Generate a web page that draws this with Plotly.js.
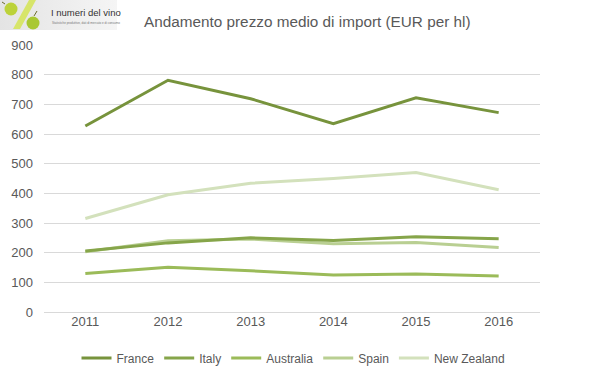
<!DOCTYPE html>
<html>
<head>
<meta charset="utf-8">
<script src="https://cdn.plot.ly/plotly-3.0.1.min.js"></script>
<style>html,body{margin:0;padding:0;background:#fff;}#chart{width:599px;height:378px;}</style>
</head>
<body>
<div id="chart"></div>
<script>
const years = ['2011', '2012', '2013', '2014', '2015', '2016'];
const france = [627, 781, 719, 635, 722, 672];
const italy = [206, 233, 250, 241, 254, 247];
const australia = [130, 151, 139, 125, 128, 121];
const spain = [203, 240, 246, 230, 234, 217];
const newZealand = [315, 395, 434, 450, 470, 412];
const seriesNames = ['France', 'Italy', 'Australia', 'Spain', 'New Zealand'];
const seriesColors = ['#77933C', '#86A54A', '#9BBB59', '#B9CF92', '#D3E1BC'];
const seriesValues = [france, italy, australia, spain, newZealand];

const traces = seriesValues.map((vals, i) => ({
  x: years, y: vals, name: seriesNames[i], type: 'scatter', mode: 'lines',
  line: {color: seriesColors[i], width: 3}, legendrank: i + 1
}));
// draw order: lightest at back
const ordered = traces.slice().reverse();

const logoSvg = '<svg xmlns="http://www.w3.org/2000/svg" width="117" height="30" viewBox="0 0 117 30">' +
  '<defs><linearGradient id="g" x1="0" y1="0" x2="1" y2="0"><stop offset="0" stop-color="#e4e4e4"/><stop offset="1" stop-color="#f5f5f5"/></linearGradient></defs>' +
  '<rect width="117" height="30" fill="url(#g)"/>' +
  '<path d="M29 0 L36 0 L20 29 L13 29 Z" fill="#d7e56a"/>' +
  '<circle cx="11" cy="9" r="6.5" fill="#bcd23a"/>' +
  '<path d="M5 4 L2 2" stroke="#6b6b2a" stroke-width="1"/>' +
  '<circle cx="33" cy="23" r="6.5" fill="#a9c832"/>' +
  '<path d="M34 16 L37 11" stroke="#6b6b2a" stroke-width="1"/>' +
  '</svg>';

const L = 44, T = 45, W = 496, H = 267;
const px = x => (x - L) / W;
const py = y => (T + H - y) / H;

const layout = {
  width: 599, height: 378,
  margin: {l: L, r: 599 - L - W, t: T, b: 378 - T - H, autoexpand: false},
  paper_bgcolor: '#ffffff', plot_bgcolor: '#ffffff',
  font: {family: 'Liberation Sans, Arial, sans-serif', color: '#595959', size: 12},
  title: {text: 'Andamento prezzo medio di import (EUR per hl)',
    font: {family: 'Liberation Sans, Arial, sans-serif', size: 15.3, color: '#595959'},
    x: 0.513, xanchor: 'center', y: 1 - 22 / 378, yanchor: 'middle', xref: 'container', yref: 'container'},
  xaxis: {type: 'category', showgrid: false, zeroline: false, showline: false, ticks: '',
    tickfont: {size: 13, color: '#595959'}, fixedrange: true, range: [-0.5, 5.5]},
  yaxis: {range: [0, 900], dtick: 100, showgrid: true, gridcolor: '#d9d9d9', gridwidth: 1,
    zeroline: true, zerolinecolor: '#d9d9d9', zerolinewidth: 1, showline: false, ticks: '',
    ticklabelstandoff: 10, tickfont: {size: 13, color: '#595959'}, fixedrange: true},
  legend: {orientation: 'h', x: 0.49, xanchor: 'center', xref: 'container', y: 1 - 358 / 378, yanchor: 'middle', yref: 'container',
    traceorder: 'normal', font: {size: 12, color: '#595959'}, itemwidth: 30, bgcolor: 'rgba(0,0,0,0)'},
  showlegend: true,
  images: [{source: 'data:image/svg+xml;charset=utf-8,' + encodeURIComponent(logoSvg),
    xref: 'paper', yref: 'paper', x: px(0), y: py(0), sizex: 117 / W, sizey: 30 / H,
    xanchor: 'left', yanchor: 'top', sizing: 'stretch', layer: 'above'}],
  annotations: [
    {text: 'I numeri del vino', xref: 'paper', yref: 'paper', x: px(49), y: py(13),
      xanchor: 'left', yanchor: 'middle', showarrow: false,
      font: {family: 'Liberation Sans, sans-serif', size: 9.5, color: '#333333'}},
    {text: 'Statistiche produttive, dati di mercato e di consumo', xref: 'paper', yref: 'paper', x: px(50), y: py(23),
      xanchor: 'left', yanchor: 'middle', showarrow: false,
      font: {family: 'Liberation Sans, sans-serif', size: 3, color: '#777777'}}
  ]
};

Plotly.newPlot('chart', ordered, layout, {staticPlot: true, displayModeBar: false});
</script>
</body>
</html>
